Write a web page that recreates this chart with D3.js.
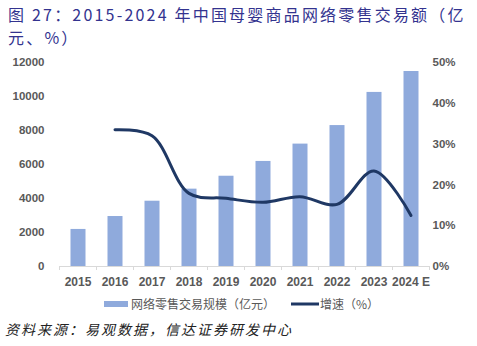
<!DOCTYPE html>
<html><head><meta charset="utf-8">
<script src="https://cdn.jsdelivr.net/npm/d3@7"></script>
<style>body{margin:0;background:#fff}svg{display:block}</style>
</head><body>
<svg id="c" width="477" height="346"></svg>
<script>
const categories = ["2015","2016","2017","2018","2019","2020","2021","2022","2023","2024 E"];
const scaleValues = [2180, 2940, 3840, 4550, 5310, 6180, 7200, 8290, 10240, 11470];
const growthValues = [null, 33.4, 31.9, 17.8, 16.6, 15.6, 17.0, 15.1, 23.3, 12.4];
const leftTicks = [0, 2000, 4000, 6000, 8000, 10000, 12000];
const rightTicks = [0, 10, 20, 30, 40, 50];
const titleLines = ["图 27：2015-2024 年中国母婴商品网络零售交易额（亿", "元、%）"];
const legendLabels = ["网络零售交易规模（亿元）", "增速（%）"];
const sourceText = "资料来源：易观数据，信达证券研发中心";

const svg = d3.select("#c");
const L = 59.5, R = 429.5, T = 62, B = 266;
const x = d3.scaleBand().domain(categories).range([L, R]).paddingInner(0).paddingOuter(0);
const yL = d3.scaleLinear().domain([0, 12000]).range([B, T]);
const yR = d3.scaleLinear().domain([0, 50]).range([B, T]);
const cjk = "'Noto Sans CJK SC', 'Noto Sans', sans-serif";
const lat = "'Liberation Sans', Arial, sans-serif";

// title
svg.selectAll("text.title").data(titleLines).enter().append("text")
  .attr("x", 8).attr("y", (d,i)=>21 + i*23)
  .attr("font-family", cjk).attr("font-size", 16).attr("letter-spacing", 2.2)
  .attr("fill", "#33338f").text(d=>d);

// bars
const bw = 15;
svg.append("g").selectAll("rect").data(scaleValues).enter().append("rect")
  .attr("x", (d,i)=>x(categories[i]) + x.bandwidth()/2 - bw/2)
  .attr("width", bw)
  .attr("y", d=>yL(d)).attr("height", d=>B - yL(d))
  .attr("fill", "#8FAADC");

// x axis
const xa = svg.append("g").attr("transform", `translate(0,${B})`)
  .call(d3.axisBottom(x).tickSize(0).tickPadding(11));
xa.select(".domain").attr("stroke", "#d9d9d9");
xa.selectAll("text").attr("font-family", lat).attr("font-size", 12).attr("font-weight", "bold").attr("fill", "#595959");
const bounds = categories.map(c=>x(c)).concat([R]);
svg.append("g").selectAll("line").data(bounds).enter().append("line")
  .attr("x1", d=>d).attr("x2", d=>d).attr("y1", B).attr("y2", B+4)
  .attr("stroke", "#d9d9d9");

// left axis
const la = svg.append("g").attr("transform", `translate(${L},0)`)
  .call(d3.axisLeft(yL).tickValues(leftTicks).tickSize(0).tickPadding(15).tickFormat(d3.format("d")));
la.select(".domain").remove();
la.selectAll("text").attr("font-family", lat).attr("font-size", 11.5).attr("font-weight", "bold").attr("fill", "#595959");

// right axis
const ra = svg.append("g").attr("transform", `translate(${R},0)`)
  .call(d3.axisRight(yR).tickValues(rightTicks).tickSize(0).tickPadding(3).tickFormat(d=>d+"%"));
ra.select(".domain").remove();
ra.selectAll("text").attr("font-family", lat).attr("font-size", 11.5).attr("font-weight", "bold").attr("fill", "#595959");

// line
const pts = growthValues.map((v,i)=>({c:categories[i], v})).filter(d=>d.v!=null);
svg.append("path").datum(pts)
  .attr("d", d3.line().x(d=>x(d.c)+x.bandwidth()/2).y(d=>yR(d.v)).curve(d3.curveCatmullRom.alpha(0.5)))
  .attr("fill", "none").attr("stroke", "#1F3864").attr("stroke-width", 3).attr("stroke-linecap", "round");

// legend
const lg = svg.append("g");
lg.append("rect").attr("x", 104).attr("y", 301).attr("width", 24).attr("height", 6).attr("fill", "#8FAADC");
lg.append("text").attr("x", 131).attr("y", 308.5).attr("font-family", cjk).attr("font-size", 12).attr("fill", "#595959").text(legendLabels[0]);
lg.append("line").attr("x1", 291).attr("x2", 319).attr("y1", 304).attr("y2", 304).attr("stroke", "#1F3864").attr("stroke-width", 3);
lg.append("text").attr("x", 320).attr("y", 308.5).attr("font-family", cjk).attr("font-size", 12).attr("fill", "#595959").text(legendLabels[1]);

// source
svg.append("text").attr("x", 5).attr("y", 335).attr("font-family", cjk).attr("font-size", 14)
  .attr("font-style", "italic").attr("letter-spacing", 2).attr("fill", "#222").text(sourceText);
</script>
</body></html>
